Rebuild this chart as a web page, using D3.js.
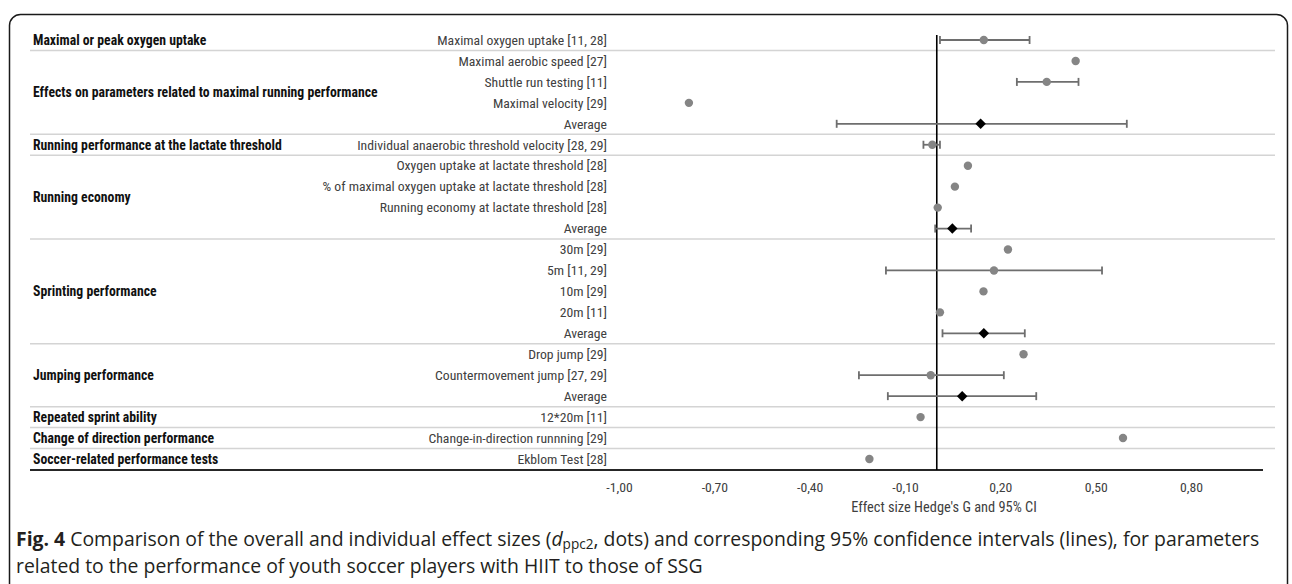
<!DOCTYPE html>
<html>
<head>
<meta charset="utf-8">
<script src="https://cdn.jsdelivr.net/npm/d3@7"></script>
<style>
  body { margin: 0; background: #fff; }
  svg { display: block; }
</style>
</head>
<body>
<div id="viz-container"></div>
<script>
// rows of the forest plot, top to bottom
const rowLabels = [
  "Maximal oxygen uptake [11, 28]",
  "Maximal aerobic speed [27]",
  "Shuttle run testing [11]",
  "Maximal velocity [29]",
  "Average",
  "Individual anaerobic threshold velocity [28, 29]",
  "Oxygen uptake at lactate threshold [28]",
  "% of maximal oxygen uptake at lactate threshold [28]",
  "Running economy at lactate threshold [28]",
  "Average",
  "30m [29]",
  "5m [11, 29]",
  "10m [29]",
  "20m [11]",
  "Average",
  "Drop jump [29]",
  "Countermovement jump [27, 29]",
  "Average",
  "12*20m [11]",
  "Change-in-direction runnning [29]",
  "Ekblom Test [28]"
];

// effect sizes and 95% CI (null = no interval drawn)
const effect = [0.148, 0.437, 0.346, -0.78, 0.138, -0.014, 0.098, 0.057, 0.003, 0.049, 0.224, 0.18, 0.147, 0.01, 0.148, 0.273, -0.019, 0.08, -0.051, 0.586, -0.212];
const ciLow  = [0.01, null, 0.252, null, -0.315, -0.042, null, null, null, -0.005, null, -0.16, null, null, 0.018, null, -0.245, -0.154, null, null, null];
const ciHigh = [0.292, null, 0.446, null, 0.598, 0.01, null, null, null, 0.108, null, 0.52, null, null, 0.277, null, 0.211, 0.313, null, null, null];

// groups: name, first row, last row
const groupNames = [
  "Maximal or peak oxygen uptake",
  "Effects on parameters related to maximal running performance",
  "Running performance at the lactate threshold",
  "Running economy",
  "Sprinting performance",
  "Jumping performance",
  "Repeated sprint ability",
  "Change of direction performance",
  "Soccer-related performance tests"
];
const groupFirst = [0, 1, 5, 6, 10, 15, 18, 19, 20];
const groupLast  = [0, 4, 5, 9, 14, 17, 18, 19, 20];

const tickValues = [-1.0, -0.7, -0.4, -0.1, 0.2, 0.5, 0.8];
const axisTitle = "Effect size Hedge's G and 95% CI";

const W = 1292, H = 584;

let viz = d3.select("#viz-container")
  .append("svg")
    .attr("width", W)
    .attr("height", H)
;

const tableFont = "'Liberation Sans Narrow', 'Roboto Condensed', 'DejaVu Sans Condensed', sans-serif";
const capFont = "'Open Sans', 'Noto Sans', sans-serif";

// pick a font size so a sample string gets the width seen in the picture
function fitSize(family, weight, sample, target){
  let t = viz.append("text")
    .style("font-family", family)
    .style("font-weight", weight)
    .style("font-size", "100px")
    .text(sample);
  let len = t.node().getComputedTextLength();
  t.remove();
  return 100 * target / len;
}

const rowSize = fitSize(tableFont, "normal", "Individual anaerobic threshold velocity [28, 29]", 250);
const grpSize = fitSize(tableFont, "bold", "Effects on parameters related to maximal running performance", 345);

// frame with rounded corners, running off the bottom
viz.append("rect")
  .attr("x", 9.5).attr("y", 14.5)
  .attr("width", 1278).attr("height", 640)
  .attr("rx", 11)
  .attr("fill", "none")
  .attr("stroke", "#1a1a1a")
  .attr("stroke-width", 1.5)
;

// scales
let x = d3.scaleLinear().domain([-1.0, 0.8]).range([619, 1191]);
let y = d3.scalePoint().domain(d3.range(rowLabels.length)).range([40, 459]);
const step = y.step();

// group separator lines
const sepRows = groupLast.slice(0, -1);
viz.selectAll(".sep").data(sepRows).enter().append("line")
  .attr("class", "sep")
  .attr("x1", 30).attr("x2", 1275)
  .attr("y1", d => y(d) + step / 2)
  .attr("y2", d => y(d) + step / 2)
  .attr("stroke", "#d4d4d4")
  .attr("stroke-width", 1.5)
;

// bottom axis line
viz.append("line")
  .attr("x1", 30).attr("x2", 1263)
  .attr("y1", 470).attr("y2", 470)
  .attr("stroke", "#262626")
  .attr("stroke-width", 2)
;

// zero line
viz.append("line")
  .attr("x1", x(0)).attr("x2", x(0))
  .attr("y1", 35).attr("y2", 470)
  .attr("stroke", "#000")
  .attr("stroke-width", 1.6)
;

// group labels
viz.selectAll(".grp").data(groupNames).enter().append("text")
  .attr("class", "grp")
  .attr("x", 33)
  .attr("y", (d, i) => (y(groupFirst[i]) + y(groupLast[i])) / 2)
  .attr("dy", "0.35em")
  .style("font-family", tableFont)
  .style("font-weight", "bold")
  .style("font-size", grpSize + "px")
  .attr("fill", "#111")
  .text(d => d)
;

// row labels
viz.selectAll(".rowlab").data(rowLabels).enter().append("text")
  .attr("class", "rowlab")
  .attr("x", 607)
  .attr("y", (d, i) => y(i))
  .attr("dy", "0.35em")
  .attr("text-anchor", "end")
  .style("font-family", tableFont)
  .style("font-size", rowSize + "px")
  .attr("fill", "#404040")
  .text(d => d)
;

// error bars
let rows = rowLabels.map((d, i) => ({
  i: i, label: d, v: effect[i], lo: ciLow[i], hi: ciHigh[i], avg: d === "Average"
}));
let withCI = rows.filter(d => d.lo !== null);

let bars = viz.selectAll(".ci").data(withCI).enter().append("g").attr("class", "ci")
  .attr("stroke", "#6e6e6e")
  .attr("stroke-width", 1.8)
;
bars.append("line")
  .attr("x1", d => x(d.lo)).attr("x2", d => x(d.hi))
  .attr("y1", d => y(d.i)).attr("y2", d => y(d.i));
bars.append("line")
  .attr("x1", d => x(d.lo)).attr("x2", d => x(d.lo))
  .attr("y1", d => y(d.i) - 4).attr("y2", d => y(d.i) + 4);
bars.append("line")
  .attr("x1", d => x(d.hi)).attr("x2", d => x(d.hi))
  .attr("y1", d => y(d.i) - 4).attr("y2", d => y(d.i) + 4);

// individual effect sizes: gray dots
viz.selectAll(".dot").data(rows.filter(d => !d.avg)).enter().append("circle")
  .attr("class", "dot")
  .attr("cx", d => x(d.v))
  .attr("cy", d => y(d.i))
  .attr("r", 4.2)
  .attr("fill", "#858585")
;

// averages: black diamonds
viz.selectAll(".dia").data(rows.filter(d => d.avg)).enter().append("path")
  .attr("class", "dia")
  .attr("d", d3.symbol().type(d3.symbolDiamond2).size(70))
  .attr("transform", d => "translate(" + x(d.v) + "," + y(d.i) + ")")
  .attr("fill", "#000")
;

// tick labels
let axis = d3.axisBottom(x)
  .tickValues(tickValues)
  .tickSize(0)
  .tickPadding(0)
  .tickFormat(d => d3.format(".2f")(d).replace(".", ",").replace("−", "-"));

let axisG = viz.append("g")
  .attr("transform", "translate(0,482)")
  .call(axis);
axisG.select(".domain").remove();
axisG.selectAll("text")
  .style("font-family", tableFont)
  .style("font-size", rowSize + "px")
  .attr("fill", "#404040");

viz.append("text")
  .attr("x", (853 + 1035) / 2)
  .attr("y", 507)
  .attr("dy", "0.35em")
  .attr("text-anchor", "middle")
  .style("font-family", tableFont)
  .style("font-size", (rowSize * 1.05) + "px")
  .attr("fill", "#404040")
  .text(axisTitle)
;

// caption, first line sized to the width seen in the picture
let cap1 = viz.append("text")
  .attr("x", 16).attr("y", 546)
  .style("font-family", capFont)
  .style("font-size", "100px")
  .attr("fill", "#231f20");
cap1.append("tspan").style("font-weight", "bold").text("Fig. 4");
cap1.append("tspan").text(" Comparison of the overall and individual effect sizes (");
cap1.append("tspan").style("font-style", "italic").text("d");
let sub = cap1.append("tspan").style("font-size", "0.7em").text("ppc2");
let after = cap1.append("tspan").text(", dots) and corresponding 95% confidence intervals (lines), for parameters");

const capSize = 100 * 1244 / cap1.node().getComputedTextLength();
cap1.style("font-size", capSize + "px");
sub.attr("dy", capSize * 0.14);
after.attr("dy", -capSize * 0.14);

viz.append("text")
  .attr("x", 16).attr("y", 573)
  .style("font-family", capFont)
  .style("font-size", capSize + "px")
  .attr("fill", "#231f20")
  .text("related to the performance of youth soccer players with HIIT to those of SSG")
;
</script>
</body>
</html>
